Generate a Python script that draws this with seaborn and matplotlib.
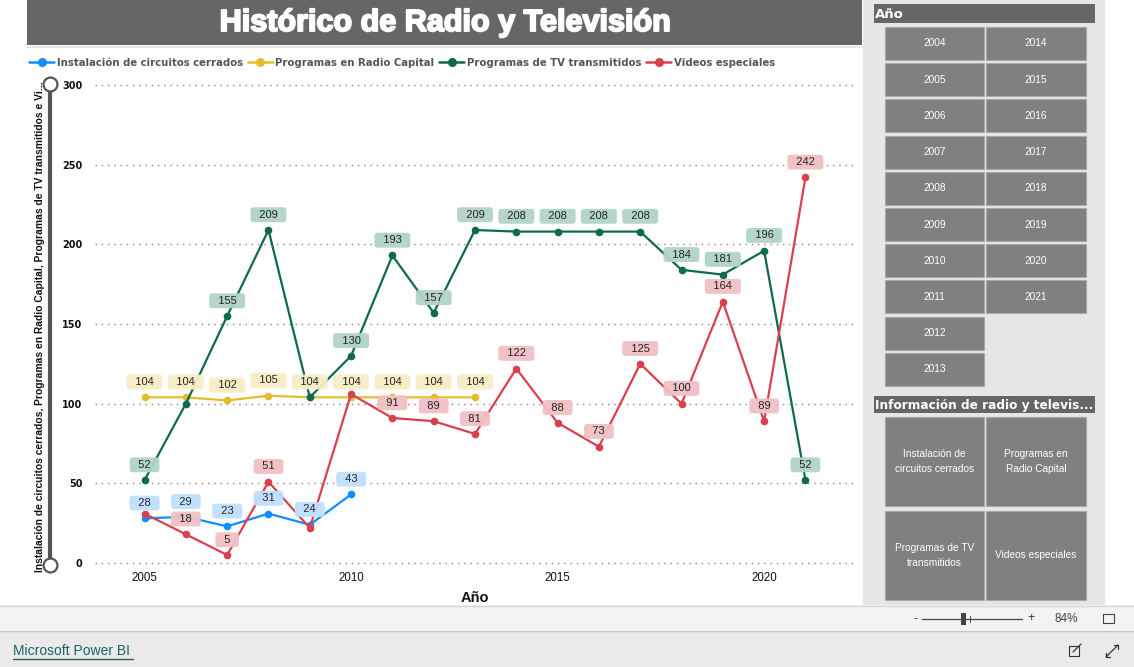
import pandas as pd
import matplotlib.pyplot as plt
import seaborn as sns
from matplotlib.lines import Line2D
from matplotlib.patches import Rectangle
import matplotlib.patheffects as pe

years = list(range(2005, 2022))
circuitos = [28, 29, 23, 31, 24, 43]
radio = [104, 104, 102, 105, 104, 104, 104, 104, 104]
tv = [52, 100, 155, 209, 104, 130, 193, 157, 209, 208, 208, 208, 208, 184, 181, 196, 52]
videos = [31, 18, 5, 51, 22, 106, 91, 89, 81, 122, 88, 73, 125, 100, 164, 89, 242]

series_names = ['Instalación de circuitos cerrados', 'Programas en Radio Capital',
                'Programas de TV transmitidos', 'Videos especiales']
series_values = [circuitos, radio, tv, videos]
colors = ['#118DFF', '#E3BE2C', '#0D6B4B', '#D9404E']
label_bg = ['#BFE0FF', '#F7EDC3', '#B1D3C6', '#F1C0C4']
# labels that Power BI hid because of overlap
hidden = {(2, 2006), (2, 2009), (3, 2005), (3, 2009), (3, 2010)}

slicer_years = list(range(2004, 2022))
slicer_measures = ['Instalación de\ncircuitos cerrados', 'Programas en\nRadio Capital',
                   'Programas de TV\ntransmitidos', 'Videos especiales']

rows = []
for name, vals in zip(series_names, series_values):
    for y, v in zip(years, vals):
        rows.append({'Año': y, 'Valor': v, 'Serie': name})
df = pd.DataFrame(rows)

sns.set_theme(style='white')
plt.rcParams['font.family'] = ['Liberation Sans', 'DejaVu Sans']

W, H = 1134, 667
fig = plt.figure(figsize=(W / 100, H / 100), dpi=100)
fig.patch.set_facecolor('white')

# background layer in pixel coordinates
bg = fig.add_axes([0, 0, 1, 1], zorder=0)
bg.set_xlim(0, W)
bg.set_ylim(H, 0)
bg.axis('off')


def box(x0, y0, x1, y1, fc, ec='none', lw=0):
    bg.add_patch(Rectangle((x0, y0), x1 - x0, y1 - y0, fc=fc, ec=ec, lw=lw))


# title bar
box(27, 0, 862, 45, '#666666')
bg.plot([27, 862], [46.5, 46.5], color='#e3e3e3', lw=1.2)
bg.text(445, 23, 'Histórico de Radio y Televisión', color='white', fontsize=22,
        fontweight='bold', ha='center', va='center',
        path_effects=[pe.withStroke(linewidth=1.4, foreground='white')])

# right slicer panel
box(863, 0, 1105, 605, '#E6E6E6')
box(874, 4, 1095, 23, '#666666')
bg.text(875, 14, 'Año', color='white', fontsize=9.5, fontweight='bold', va='center',
        family='DejaVu Sans')
col_x = [(885, 984), (986, 1086)]
for yr in slicer_years:
    if yr >= 2014:
        col, row = 1, yr - 2014
    else:
        col, row = 0, yr - 2004
    y0 = 27 + row * 36.2
    x0, x1 = col_x[col]
    box(x0, y0, x1, y0 + 33, '#808080', '#A8A8A8', 0.8)
    bg.text((x0 + x1) / 2, y0 + 16.5, str(yr), color='white', fontsize=7.3,
            ha='center', va='center')

box(874, 396, 1095, 413, '#666666')
bg.text(875, 405, 'Información de radio y televis...', color='white', fontsize=8.7,
        fontweight='bold', va='center', family='DejaVu Sans')
for i, m in enumerate(slicer_measures):
    row, col = divmod(i, 2)
    x0, x1 = col_x[col]
    y0 = 417 + row * 94
    box(x0, y0, x1, y0 + 89, '#808080', '#A8A8A8', 0.8)
    bg.text((x0 + x1) / 2, y0 + 44.5, m, color='white', fontsize=7.3, ha='center',
            va='center', linespacing=1.6)

# bottom bars
box(0, 605, W, 630, '#F3F3F3')
bg.plot([0, W], [605.5, 605.5], color='#D6D6D6', lw=1)
box(0, 631, W, H, '#EAEAEA')
bg.plot([0, W], [630.5, 630.5], color='#C6C6C6', lw=1)
bg.text(915, 619, '-', fontsize=9, ha='center', va='center', color='#333333')
bg.plot([922, 1022], [619, 619], color='#444444', lw=0.9)
box(961, 613, 966, 625, '#444444')
bg.plot([970, 970], [616, 622], color='#444444', lw=0.7)
bg.text(1031, 618, '+', fontsize=9, ha='center', va='center', color='#333333')
bg.text(1066, 619, '84%', fontsize=8.5, ha='center', va='center', color='#444444')
bg.add_patch(Rectangle((1103, 614), 11, 9, fc='none', ec='#444444', lw=0.8))
bg.text(13, 651, 'Microsoft Power BI', fontsize=10, color='#1A6363', va='center')
bg.plot([13, 133], [659, 659], color='#1A6363', lw=1)
bg.add_patch(Rectangle((1069, 646), 10, 10, fc='none', ec='#333333', lw=0.8))
bg.plot([1073, 1081], [652, 644], color='#333333', lw=0.9)
bg.plot([1106, 1118], [657, 645], color='#333333', lw=0.9)
bg.plot([1106, 1106, 1110], [653, 657, 657], color='#333333', lw=0.9)
bg.plot([1114, 1118, 1118], [645, 645, 649], color='#333333', lw=0.9)

# zoom slider on the value axis
bg.plot([50, 50], [84, 565], color='#555555', lw=3, solid_capstyle='butt')
bg.plot([50, 50], [84, 565], 'o', ms=10, mfc='white', mec='#555555', mew=1.6)
bg.text(40, 327, 'Instalación de circuitos cerrados, Programas en Radio Capital, '
        'Programas de TV transmitidos e Vi...', rotation=90, fontsize=7.4,
        fontweight='bold', ha='center', va='center', color='#111111')

# main chart
y_lo, y_hi = -2, 302
px = 478 / 300
top = 85 - 2 * px
bot = 563 + 2 * px
ax = fig.add_axes([95 / W, (H - bot) / H, 760 / W, (bot - top) / H], zorder=1)
ax.set_facecolor('none')

sns.lineplot(data=df, x='Año', y='Valor', hue='Serie', hue_order=series_names,
             palette=colors, marker='o', markersize=5.5, markeredgewidth=0,
             linewidth=1.6, errorbar=None, legend=False, ax=ax)

for k, (vals, c) in enumerate(zip(series_values, label_bg)):
    for y, v in zip(years, vals):
        if (k, y) in hidden:
            continue
        ax.annotate(f'  {v}  ', (y, v), xytext=(0, 11), textcoords='offset points',
                    ha='center', va='center', fontsize=8, color='#252423',
                    zorder=5, annotation_clip=False,
                    bbox=dict(boxstyle='round,pad=0.22,rounding_size=0.3',
                              fc=c, ec='none', alpha=0.95))

ax.set_xlim(2003.8, 2022.2)
ax.set_ylim(y_lo, y_hi)
ax.set_xticks([2005, 2010, 2015, 2020])
ax.set_yticks([0, 50, 100, 150, 200, 250, 300])
ax.set_yticklabels(['0', '50', '100', '150', '200', '250', '300'],
                   fontweight='bold', family='DejaVu Sans', fontsize=7)
ax.tick_params(axis='x', length=0, labelsize=8.3, pad=4, labelcolor='#111111')
ax.tick_params(axis='y', length=0, pad=9, labelcolor='#111111')
ax.yaxis.grid(True, color='#888888', linestyle=(0, (1, 3.5)), lw=1)
ax.xaxis.grid(False)
for s in ax.spines.values():
    s.set_visible(False)
ax.set_xlabel('Año', fontsize=10.5, fontweight='bold', labelpad=5, color='#111111')
ax.set_ylabel('')

handles = [Line2D([0], [0], color=c, marker='o', markersize=6.5, lw=1.8,
                  markeredgewidth=0) for c in colors]
fig.legend(handles, series_names, loc='center left', bbox_to_anchor=(29 / W, 1 - 63 / H),
           ncol=4, frameon=False, handlelength=2.5, handletextpad=0.25,
           columnspacing=0.45, borderaxespad=0, borderpad=0,
           prop={'family': 'DejaVu Sans', 'weight': 'bold', 'size': 7.3},
           labelcolor='#555555')

fig.savefig('out.png', dpi=100)
